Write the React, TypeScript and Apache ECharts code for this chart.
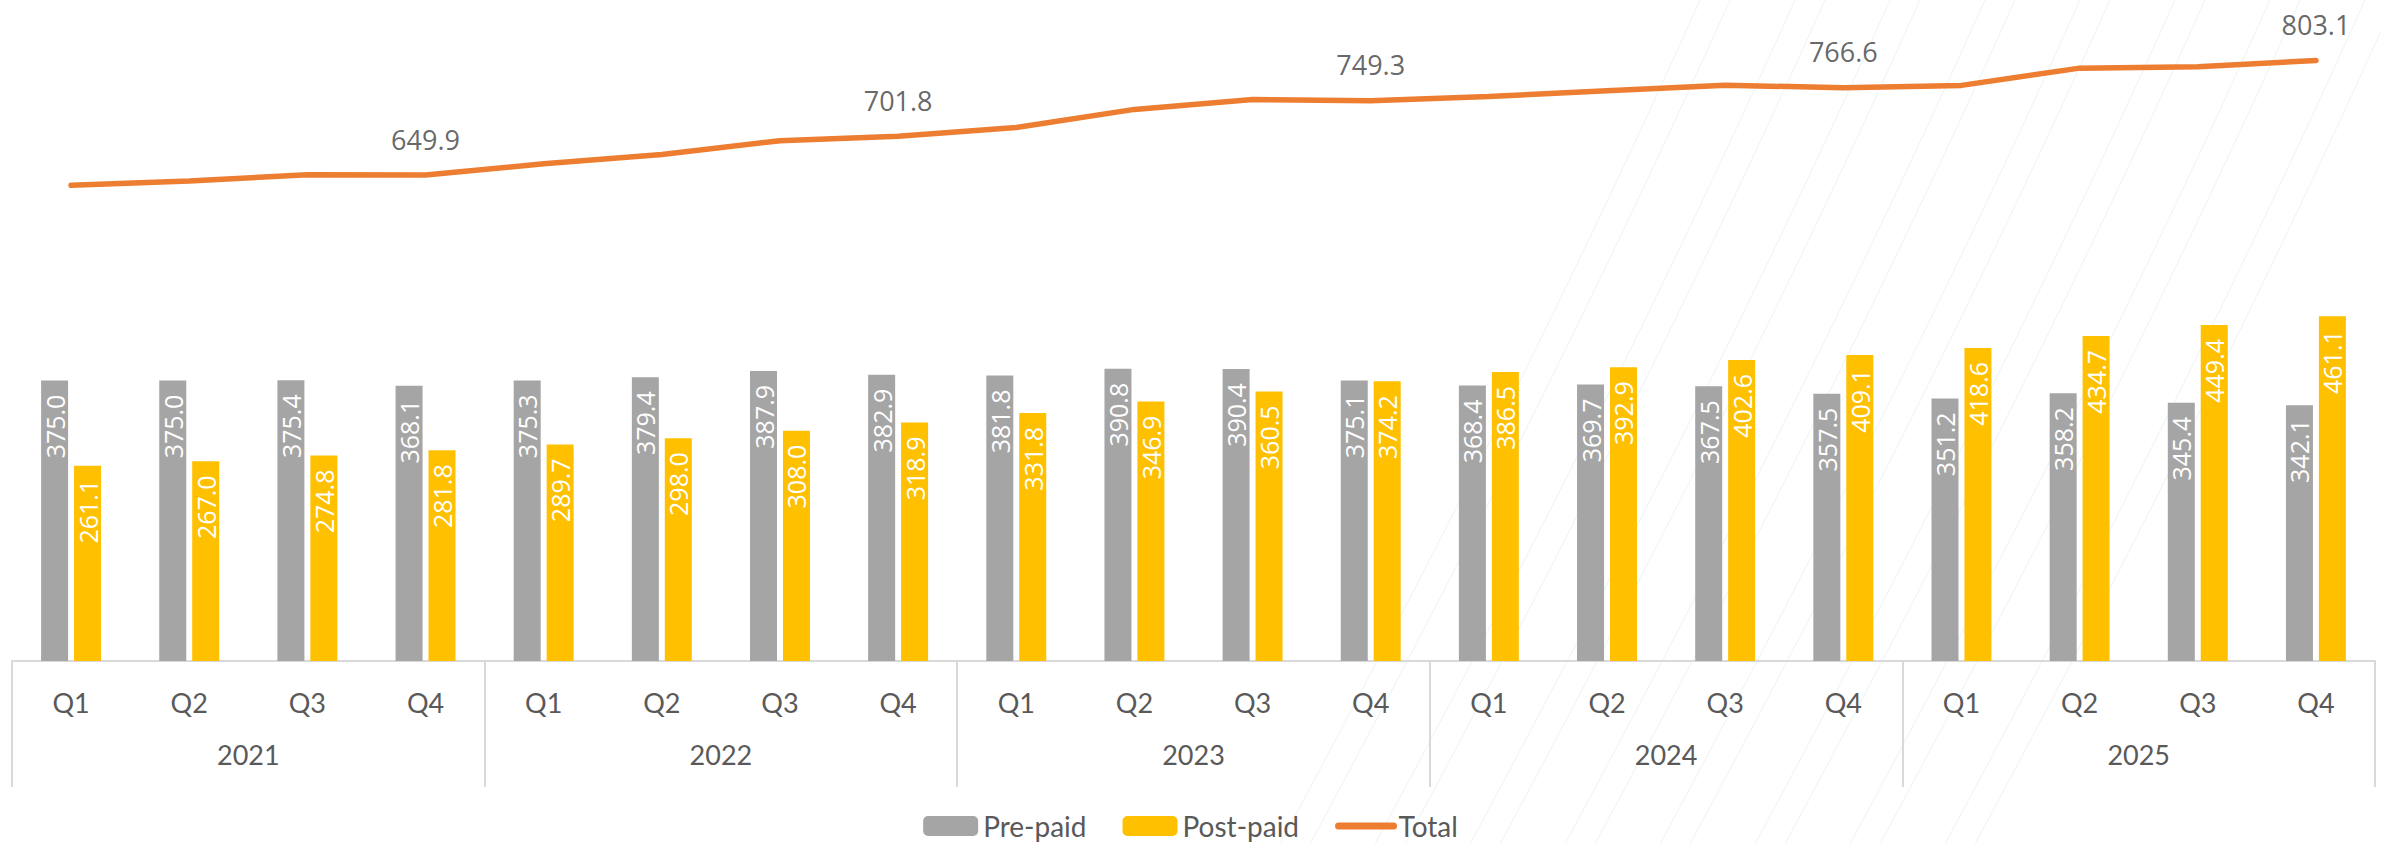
import React, { useEffect, useRef } from "react";
import * as echarts from "echarts";

const years = ["2021", "2022", "2023", "2024", "2025"];
const quarterNames = ["Q1", "Q2", "Q3", "Q4"];
const categories = years.flatMap((y) => quarterNames.map((q) => `${y} ${q}`));

const prePaid = [
  375.0, 375.0, 375.4, 368.1,
  375.3, 379.4, 387.9, 382.9,
  381.8, 390.8, 390.4, 375.1,
  368.4, 369.7, 367.5, 357.5,
  351.2, 358.2, 345.4, 342.1,
];
const postPaid = [
  261.1, 267.0, 274.8, 281.8,
  289.7, 298.0, 308.0, 318.9,
  331.8, 346.9, 360.5, 374.2,
  386.5, 392.9, 402.6, 409.1,
  418.6, 434.7, 449.4, 461.1,
];
const total = [
  636.1, 642.0, 650.2, 649.9,
  665.0, 677.4, 695.9, 701.8,
  713.6, 737.7, 750.9, 749.3,
  754.9, 762.6, 770.1, 766.6,
  769.8, 792.9, 794.8, 803.1,
];
const totalLabelIndex = [3, 7, 11, 15, 19];

const AXIS_FONT = "Lato, 'Noto Sans', sans-serif";
const LABEL_FONT = "'Open Sans', 'Noto Sans', sans-serif";

function decoCurves() {
  const els: any[] = [];
  for (let k = 0; k < 8; k++) {
    const base = 1700 + k * 95;
    [0, 30].forEach((d) => {
      const x0 = base + d;
      els.push({
        type: "bezierCurve",
        silent: true,
        z: -1,
        shape: {
          x1: x0 - 420,
          y1: 844,
          cpx1: x0 - 170,
          cpy1: 380,
          x2: x0,
          y2: 0,
        },
        style: { stroke: "#EEF7F6", lineWidth: 1.2, fill: null },
      });
    });
  }
  return els;
}

const barLabel = {
  show: true,
  position: "insideTop",
  rotate: 90,
  align: "right",
  verticalAlign: "middle",
  distance: 14,
  color: "#ffffff",
  fontSize: 25,
  fontFamily: LABEL_FONT,
  formatter: (p: any) => Number(p.value).toFixed(1),
};

export default function App() {
  const ref = useRef<HTMLDivElement>(null);
  useEffect(() => {
    const chart = echarts.init(ref.current!, null, { renderer: "svg" });
    chart.setOption({
      animation: false,
      backgroundColor: "#ffffff",
      graphic: decoCurves(),
      grid: { left: 12, right: 6, top: 3, bottom: 183, containLabel: false },
      legend: {
        data: [
          "Pre-paid",
          "Post-paid",
          { name: "Total", itemStyle: { opacity: 0 }, lineStyle: { width: 7, cap: "round" } },
        ],
        top: 807,
        left: "center",
        itemWidth: 55,
        itemHeight: 20,
        itemGap: 36,
        textStyle: { fontSize: 28, color: "#595959", fontFamily: AXIS_FONT },
      },
      xAxis: [
        {
          type: "category",
          data: categories,
          boundaryGap: true,
          axisLine: { show: true, lineStyle: { color: "#D9D9D9", width: 2 } },
          axisTick: { show: false },
          axisLabel: {
            interval: 0,
            formatter: (v: string) => v.split(" ")[1],
            fontSize: 27,
            color: "#595959",
            margin: 28,
            fontFamily: AXIS_FONT,
          },
        },
        {
          type: "category",
          data: years,
          position: "bottom",
          boundaryGap: true,
          axisLine: { show: false },
          axisTick: {
            show: true,
            interval: 0,
            length: 126,
            lineStyle: { color: "#D9D9D9", width: 2 },
          },
          axisLabel: {
            interval: 0,
            fontSize: 27,
            color: "#595959",
            margin: 80,
            fontFamily: AXIS_FONT,
          },
        },
      ],
      yAxis: {
        type: "value",
        min: 0,
        max: 880,
        show: false,
        splitLine: { show: false },
      },
      series: [
        {
          name: "Pre-paid",
          type: "bar",
          data: prePaid,
          barWidth: 27,
          barGap: "22%",
          itemStyle: { color: "#A5A5A5" },
          label: barLabel,
        },
        {
          name: "Post-paid",
          type: "bar",
          data: postPaid,
          barWidth: 27,
          barGap: "22%",
          itemStyle: { color: "#FFC000" },
          label: barLabel,
        },
        {
          name: "Total",
          type: "line",
          data: total,
          symbol: "none",
          smooth: false,
          lineStyle: { color: "#ED7D31", width: 5.5, cap: "round" },
          itemStyle: { color: "#ED7D31" },
          z: 5,
        },
        {
          name: "TotalLabels",
          type: "scatter",
          data: total.map((v, i) => (totalLabelIndex.includes(i) ? v : "-")),
          symbol: "circle",
          symbolSize: 1,
          itemStyle: { color: "rgba(0,0,0,0)" },
          silent: true,
          label: {
            show: true,
            position: "top",
            distance: 22,
            color: "#404040",
            fontSize: 27,
            fontFamily: LABEL_FONT,
            formatter: (p: any) => Number(p.value).toFixed(1),
          },
          z: 6,
        },
      ],
    });
    return () => chart.dispose();
  }, []);
  return (
    <div
      ref={ref}
      style={{ position: "fixed", left: 0, top: 0, width: 2381, height: 844, background: "#fff" }}
    />
  );
}
